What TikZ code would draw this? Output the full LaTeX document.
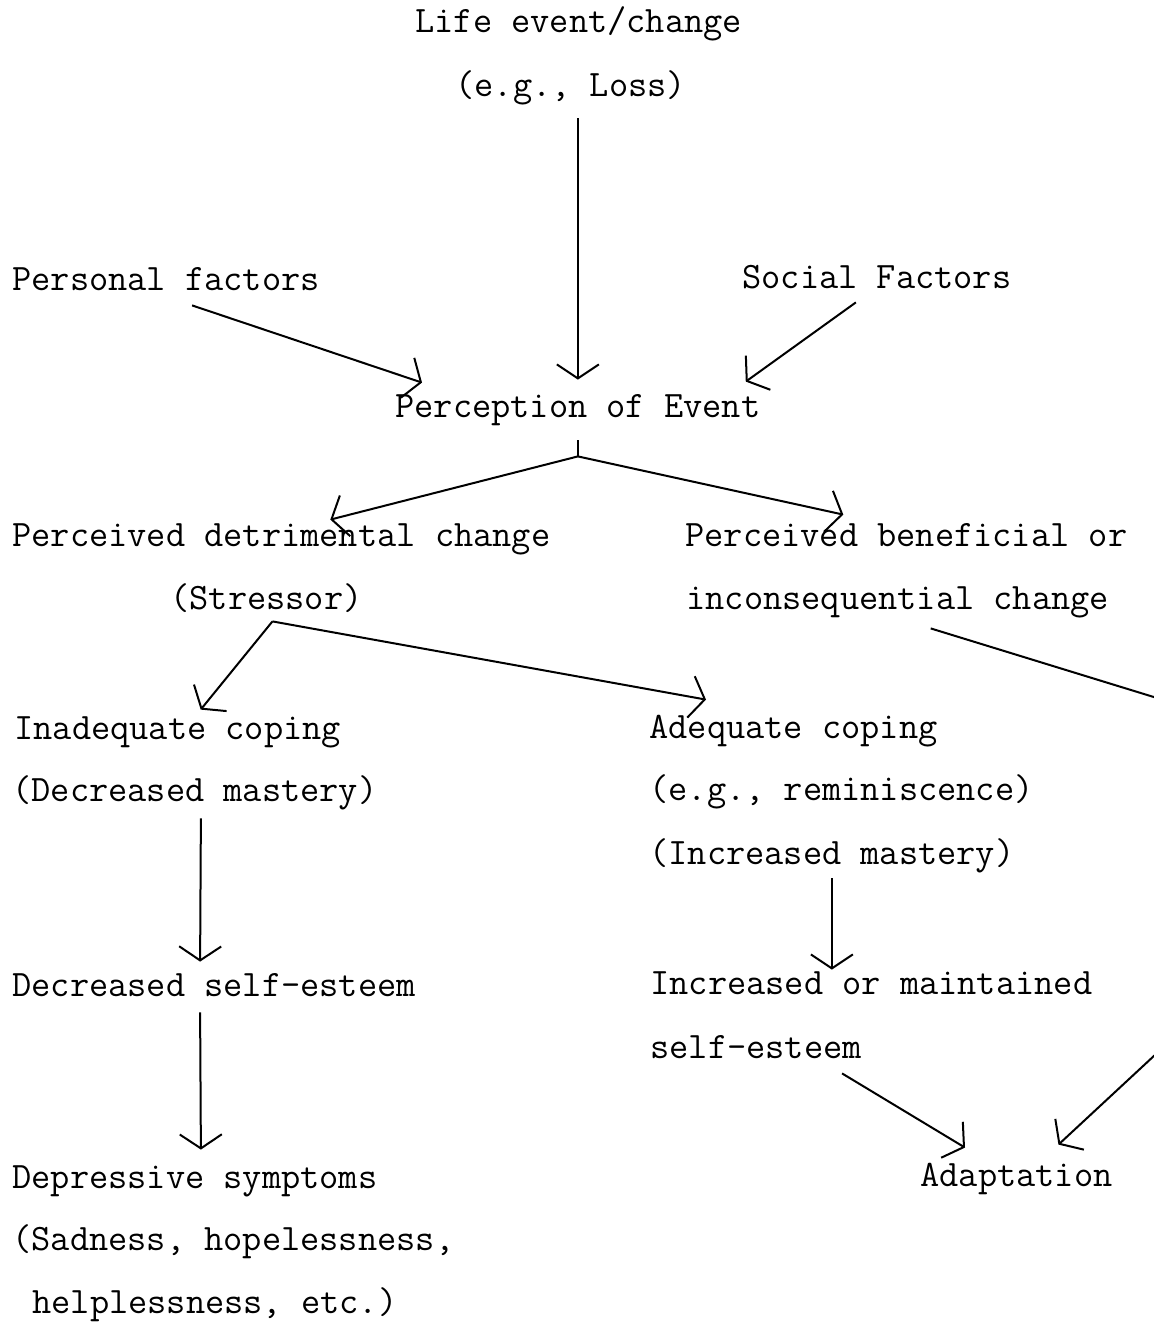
\documentclass[tikz,border=0pt]{standalone}
\usepackage{fontspec}
\usetikzlibrary{arrows.meta,calc}

\begin{document}
\begin{tikzpicture}[x=0.5pt,y=-0.5pt,
    font=\ttfamily\fontsize{18.65}{22}\selectfont,
    lbl/.style={anchor=base west,inner sep=0pt,text height=12pt,text depth=4pt},
    arr/.style={-{Straight Barb[length=7pt,width=21pt]},line width=1pt}]
  \useasboundingbox (0,0) rectangle (1154,1323);
  \clip (0,0) rectangle (1154,1323);
  % top
  \node[lbl] (life1) at (415,32) {Life event/change};
  \node[lbl] (life2) at (455,96) {(e.g., Loss)};
  \node[lbl] (pers) at (12,290) {Personal factors};
  \node[lbl] (soc) at (742,288) {Social Factors};
  \node[lbl] (perc) at (395,417) {Perception of Event};
  % perceived change
  \node[lbl] (det) at (12,546) {Perceived detrimental change};
  \node[lbl] (stres) at (170,609) {(Stressor)};
  \node[lbl] (ben) at (685,546) {Perceived beneficial or};
  \node[lbl] (incons) at (686,609) {inconsequential change};
  % coping
  \node[lbl] (inad) at (14,739) {Inadequate coping};
  \node[lbl] (decm) at (12,801) {(Decreased mastery)};
  \node[lbl] (adq) at (649,738) {Adequate coping};
  \node[lbl] (remin) at (649,800) {(e.g., reminiscence)};
  \node[lbl] (incm) at (649,864) {(Increased mastery)};
  % self-esteem
  \node[lbl] (dse) at (12,996) {Decreased self-esteem};
  \node[lbl] (incr) at (650,994) {Increased or maintained};
  \node[lbl] (selfe) at (650,1058) {self-esteem};
  % outcomes
  \node[lbl] (dep1) at (12,1188) {Depressive symptoms};
  \node[lbl] (dep2) at (12,1250) {(Sadness, hopelessness,};
  \node[lbl] (dep3) at (32,1313) {helplessness, etc.)};
  \node[lbl] (adapt) at (920,1186) {Adaptation};

  % into perception
  \draw[arr,shorten <=7pt,shorten >=6.5pt] (life2.south -| perc.north) -- (perc.north);
  \draw[arr] ($(pers.south)+(26,7)$) -- ($(perc.north west)+(27,-10)$);
  \draw[arr] ($(soc.south)+(-21,6)$) -- ($(perc.north east)+(-15,-11)$);
  % fork below perception
  \coordinate (percFork) at ($(perc.south)+(0,31)$);
  \draw[line width=1pt] ($(perc.south)+(0,15)$) -- (percFork);
  \draw[arr] (percFork) -- ($(det.north)+(49,-2)$);
  \draw[arr] (percFork) -- ($(ben.north)+(-63,-7)$);
  % fork below stressor
  \coordinate (stresFork) at ($(stres.south)+(6,4)$);
  \draw[arr] (stresFork) -- ($(inad.north)+(23,-5)$);
  \draw[arr] (stresFork) -- ($(adq.north west)+(57,-14)$);
  % left column
  \draw[arr] ($(decm.south)+(6,9)$) -- ($(dse.north)+(-14,-10)$);
  \draw[arr] ($(dse.south)+(-14,8)$) -- ($(dep1.north)+(6,-14)$);
  % right column
  \draw[arr,shorten <=3pt] (incm.south) -- (incm.south |- incr.north);
  \draw[arr] ($(selfe.south)+(86,7)$) -- ($(adapt.north west)+(45,-14)$);
  \draw[arr] ($(incons.south)+(33,11)$) -- (1170,702) -- (1170,1041)
       -- ($(adapt.north)+(42,-17)$);
\end{tikzpicture}
\end{document}
